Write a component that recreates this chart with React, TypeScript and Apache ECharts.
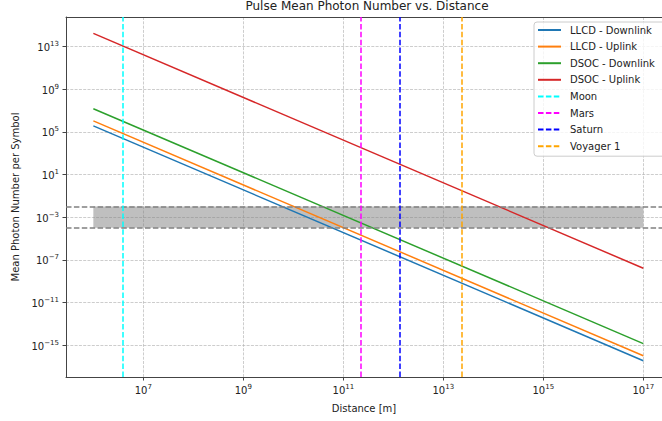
import React, { useEffect, useRef } from 'react';
import * as echarts from 'echarts';

const distances = [1e6, 1e17];
const lineNames = ['LLCD - Downlink', 'LLCD - Uplink', 'DSOC - Downlink', 'DSOC - Uplink'];
const llcdDownlink = [3.6e5, 3.6e-17];
const llcdUplink = [1.05e6, 1.05e-16];
const dsocDownlink = [1.45e7, 1.45e-15];
const dsocUplink = [1.65e14, 1.65e-8];
const lineColors = ['#1f77b4', '#ff7f0e', '#2ca02c', '#d62728'];
const markerNames = ['Moon', 'Mars', 'Saturn', 'Voyager 1'];
const markerDistances = [3.84e6, 2.2e11, 1.35e12, 2.34e13];
const markerColors = ['#00ffff', '#ff00ff', '#0000ff', '#ffa500'];
const bandRange = [1e6, 1e17];
const bandLevels = [1e-4, 1e-2];
const xTickExponents = [7, 9, 11, 13, 15, 17];
const yTickExponents = [-15, -11, -7, -3, 1, 5, 9, 13];

const FONT = 'DejaVu Sans';
const TEXT = '#222';
const lg = (v: number) => Math.log10(v);

const supLabel = (v: number) => {
  const n = Math.round(v);
  return `{b|10}{e|${String(n).replace('-', '\u2212')}}`;
};
const rich = {
  b: { fontSize: 10, lineHeight: 12, verticalAlign: 'bottom', color: TEXT, fontFamily: FONT },
  e: { fontSize: 7, verticalAlign: 'top', color: TEXT, fontFamily: FONT },
};

export default function App() {
  const ref = useRef<HTMLDivElement>(null);
  useEffect(() => {
    document.body.style.margin = '0';
    const chart = echarts.init(ref.current!, null, { renderer: 'svg' });
    const lineData = [llcdDownlink, llcdUplink, dsocDownlink, dsocUplink];
    const dash = [5.5, 2.4];
    const series: any[] = [];
    series.push({
      type: 'line',
      name: 'band',
      data: [],
      z: 1,
      silent: true,
      markArea: {
        silent: true,
        itemStyle: { color: 'rgba(128,128,128,0.5)' },
        data: [[{ coord: [lg(bandRange[0]), lg(bandLevels[0])] }, { coord: [lg(bandRange[1]), lg(bandLevels[1])] }]],
      },
      markLine: {
        silent: true,
        symbol: ['none', 'none'],
        label: { show: false },
        lineStyle: { color: '#808080', width: 1.5, type: dash },
        data: bandLevels.map((v) => ({ yAxis: lg(v) })),
      },
    });
    lineNames.forEach((name, i) => {
      series.push({
        type: 'line',
        name,
        symbol: 'none',
        z: 2,
        data: distances.map((d, j) => [lg(d), lg(lineData[i][j])]),
        lineStyle: { color: lineColors[i], width: 1.5 },
        itemStyle: { color: lineColors[i] },
      });
    });
    markerNames.forEach((name, i) => {
      series.push({
        type: 'line',
        name,
        symbol: 'none',
        z: 3,
        data: [],
        lineStyle: { color: markerColors[i], width: 1.5, type: dash },
        itemStyle: { color: markerColors[i] },
        markLine: {
          silent: true,
          symbol: ['none', 'none'],
          label: { show: false },
          lineStyle: { color: markerColors[i], width: 1.5, type: dash },
          data: [{ xAxis: lg(markerDistances[i]) }],
        },
      });
    });

    const axisLineStyle = { color: '#444', width: 1 };
    const splitLine = { show: true, lineStyle: { color: '#b0b0b0', width: 0.8, type: [3, 1.3], opacity: 0.8 } };

    chart.setOption({
      animation: false,
      title: {
        text: 'Pulse Mean Photon Number vs. Distance',
        left: 367,
        top: 0,
        textAlign: 'center',
        padding: 0,
        textStyle: { fontSize: 12, fontWeight: 'normal', color: TEXT, fontFamily: FONT },
      },
      grid: { left: 66, top: 17, right: 0, bottom: 44 },
      legend: {
        data: [...lineNames, ...markerNames],
        orient: 'vertical',
        left: 534,
        top: 22,
        itemWidth: 23,
        itemHeight: 12,
        itemGap: 6.6,
        padding: [3, 20, 5, 3],
        backgroundColor: 'rgba(255,255,255,0.8)',
        borderColor: '#cccccc',
        borderWidth: 1,
        borderRadius: 3,
        itemStyle: { opacity: 0 },
        textStyle: { fontSize: 10, color: TEXT, fontFamily: FONT, padding: [0, 0, 0, 4] },
      },
      xAxis: [
        {
          type: 'value',
          min: 5.453,
          max: 17.374,
          name: 'Distance [m]',
          nameLocation: 'middle',
          nameGap: 26,
          nameTextStyle: { fontSize: 10, color: TEXT, fontFamily: FONT },
          axisLine: { show: true, onZero: false, lineStyle: axisLineStyle },
          axisTick: { show: true, length: 3.5, customValues: xTickExponents, lineStyle: axisLineStyle },
          axisLabel: { customValues: xTickExponents, formatter: supLabel, rich, margin: 6 },
          splitLine,
        },
        {
          type: 'value',
          position: 'top',
          min: 5.453,
          max: 17.374,
          axisLine: { show: true, onZero: false, lineStyle: axisLineStyle },
          axisTick: { show: false },
          axisLabel: { show: false },
          splitLine: { show: false },
        },
      ],
      yAxis: {
        type: 'value',
        min: -17.97,
        max: 15.75,
        name: 'Mean Photon Number per Symbol',
        nameLocation: 'middle',
        nameGap: 42,
        nameTextStyle: { fontSize: 10, color: TEXT, fontFamily: FONT },
        axisLine: { show: true, onZero: false, lineStyle: axisLineStyle },
        axisTick: { show: true, length: 3.5, customValues: yTickExponents, lineStyle: axisLineStyle },
        axisLabel: { customValues: yTickExponents, formatter: supLabel, rich, margin: 7 },
        splitLine,
      },
      series,
    });
    return () => chart.dispose();
  }, []);
  return <div ref={ref} style={{ width: 662, height: 421 }} />;
}
